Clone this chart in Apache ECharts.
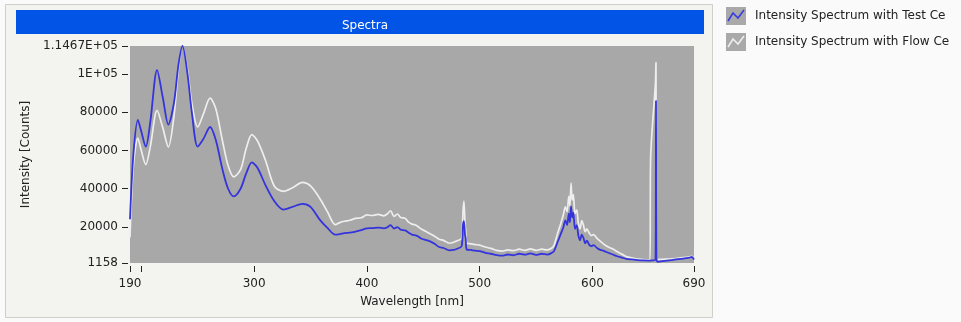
<!DOCTYPE html>
<html>
<head>
<meta charset="utf-8">
<script src="https://cdn.jsdelivr.net/npm/echarts@6/dist/echarts.min.js"></script>
<style>
html,body{margin:0;padding:0;background:#fafafa;}
#chart{width:961px;height:322px;}
</style>
</head>
<body>
<div id="chart"></div>
<script>
// Wavelength samples (nm)
var wavelengths = [190,193,197,200,204,208,214,219,224,229,233,236.5,241,245,250,255,261,266,272,277,282,288,293,298,303,310,318,326,334,343,350,358,365,
  372,376,380,385,390,395,400,405,410,415,418,421,424,427,430,434,437,440,444,448,452,456,460,464,468,473,477,480,
  484,485.2,486,487,487.6,
  488.5,492,496,500,505,510,515,520,525,530,535,540,545,550,555,560,564,
  566,569,572,574,576,577.5,579,580,581,582,583,584.5,586,587.5,589,590.5,592,593.5,595,597,599,601,604,607,610,614,618,622,626,630,635,640,645,650,
  651,651.5,655.8,656.3,656.8,658,662,670,678,685,688,690];
// Intensity Spectrum with Test Cell (counts)
var testCell = [24000,58000,76000,70000,62000,75000,102000,88000,73500,85000,105000,114670,100000,79000,62000,66000,72300,65600,50000,40000,36000,40000,48000,53800,51000,42000,33500,29100,30500,32100,30500,24000,19500,
  16000,16300,16800,17000,17600,18300,19300,19400,19700,19300,19800,21000,19200,19900,18600,18200,17000,16000,15500,14000,13200,12500,11200,9500,9000,7800,8000,8600,
  10000,21000,23000,16000,14000,
  8200,8000,7600,7400,6500,6000,5300,5000,5600,5200,6000,5500,6200,5400,6000,5500,6500,
  7500,12000,16500,19500,23500,21000,27000,22500,30800,25000,27500,19000,21000,15500,13000,16000,14300,11500,12800,10800,10000,10500,9000,8000,7500,6500,5600,4700,4000,3300,3000,2700,2500,2450,
  2450,2500,2500,86000,3500,1800,2100,2700,3300,3800,4300,3000];
// Intensity Spectrum with Flow Cell (counts)
var flowCell = [14500,52000,66500,60000,52600,62000,81000,72000,61800,78000,103000,114670,102000,84000,72300,79000,87400,82000,65000,52000,46200,50000,61000,68300,65000,55000,41300,38650,40500,43350,41500,35200,28000,
  21250,22300,23000,23500,24500,24800,26300,26000,26600,25800,26800,28500,25500,26800,25000,24500,22500,21500,20800,19000,17800,16500,15200,13600,13000,11500,12000,12800,
  14000,28000,33500,22000,18000,
  11700,11200,10800,10500,9500,8800,7800,7400,8000,7600,8400,7800,8500,7800,8400,8000,9000,
  10500,16500,22000,26000,30500,28000,36000,31000,43000,34000,37000,27000,29000,22000,19000,23300,21000,17500,19000,17000,15500,16000,14000,12500,11000,9500,8500,7000,5800,4500,3800,3200,2900,2800,
  2800,55000,95000,106000,3000,3000,3100,3300,3800,4200,4600,3600];
var xTicks = [190,200,300,400,500,600,690];
var xLabels = [190,300,400,500,600,690];
var yTicks = [1158,20000,40000,60000,80000,100000,114670];
var yLabelText = {1158:'1158',20000:'20000',40000:'40000',60000:'60000',80000:'80000',100000:'1E+05',114670:'1.1467E+05'};
var seriesNames = ['Intensity Spectrum with Test Ce','Intensity Spectrum with Flow Ce'];
var titleText = 'Spectra';

function pairs(xs, ys){ return xs.map(function(x,i){ return [x, ys[i]]; }); }
function icon(lineColor){
  var svg = '<svg xmlns="http://www.w3.org/2000/svg" width="20" height="18" viewBox="0 0 20 18">' +
    '<rect x="0" y="0" width="20" height="18" fill="#a9a9a9"/>' +
    '<polyline points="2,14 7,6 12,11 18,3" fill="none" stroke="' + lineColor + '" stroke-width="1.6"/></svg>';
  return 'image://data:image/svg+xml;charset=utf-8,' + encodeURIComponent(svg);
}

var chart = echarts.init(document.getElementById('chart'), null, {renderer:'canvas'});
var FONT = 'DejaVu Sans';
chart.setOption({
  animation: false,
  backgroundColor: '#fafafa',
  textStyle: {fontFamily: FONT},
  graphic: [
    {type:'rect', z:-10, shape:{x:5.5,y:4.5,width:707,height:313}, style:{fill:'#f3f3ef', stroke:'#cfcfc8', lineWidth:1}},
    {type:'rect', z:-9, shape:{x:16,y:10,width:688,height:24}, style:{fill:'#0254e6'}}
  ],
  title: {
    text: titleText, left: 360, top: 15, textAlign: 'center',
    textStyle: {color:'#ffffff', fontSize:12, fontWeight:'normal', fontFamily: FONT}
  },
  legend: {
    orient: 'vertical', left: 726, top: 7, padding: 0, itemWidth: 20, itemHeight: 18, itemGap: 8,
    textStyle: {fontSize: 12, color: '#222', fontFamily: FONT, padding:[0,0,0,4]},
    data: [
      {name: seriesNames[0], icon: icon('#3a3ae0')},
      {name: seriesNames[1], icon: icon('#eeeeee')}
    ]
  },
  grid: {left:130, top:46, width:564, height:217, show:true, backgroundColor:'#a8a8a8', borderWidth:0, containLabel:false},
  xAxis: {
    type: 'value', min: 190, max: 690, offset: 3,
    name: 'Wavelength [nm]', nameLocation: 'middle', nameGap: 30,
    nameTextStyle: {fontSize: 12, color:'#222', fontFamily: FONT},
    axisLine: {show:false},
    axisTick: {show:true, length:6, customValues: xTicks, lineStyle:{color:'#222', width:1}},
    axisLabel: {customValues: xLabels, fontSize:12, color:'#222', margin:12, fontFamily: FONT},
    splitLine: {show:false}
  },
  yAxis: {
    type: 'value', min: 1158, max: 114670, offset: 2,
    name: 'Intensity [Counts]', nameLocation: 'middle', nameGap: 86,
    nameTextStyle: {fontSize: 12, color:'#222', fontFamily: FONT},
    axisLine: {show:false},
    axisTick: {show:true, length:6, customValues: yTicks, lineStyle:{color:'#222', width:1}},
    axisLabel: {customValues: yTicks, fontSize:12, color:'#222', margin:10, fontFamily: FONT,
      formatter: function(v){ return yLabelText[v] !== undefined ? yLabelText[v] : String(v); }},
    splitLine: {show:false}
  },
  series: [
    {name: seriesNames[1], type:'line', data: pairs(wavelengths, flowCell), showSymbol:false, smooth:0.3,
     lineStyle:{color:'#eeeeee', width:1.7}, itemStyle:{color:'#eeeeee'}, z:2},
    {name: seriesNames[0], type:'line', data: pairs(wavelengths, testCell), showSymbol:false, smooth:0.3,
     lineStyle:{color:'#3434dc', width:1.8}, itemStyle:{color:'#3434dc'}, z:3}
  ]
});
</script>
</body>
</html>
